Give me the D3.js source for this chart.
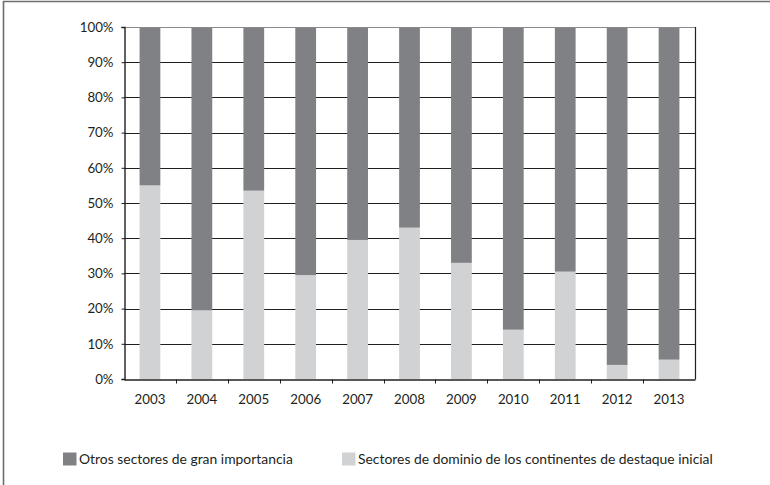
<!DOCTYPE html>
<html>
<head>
<meta charset="utf-8">
<script src="https://cdn.jsdelivr.net/npm/d3@7"></script>
<style>
  html, body { margin: 0; padding: 0; background: #fff; }
  svg { display: block; font-family: Lato, "Open Sans", sans-serif; }
</style>
</head>
<body>
<svg id="chart" width="770" height="485"></svg>
<script>
// Share of each sector group per year (percent)
const years = ["2003", "2004", "2005", "2006", "2007", "2008", "2009", "2010", "2011", "2012", "2013"];
const dominio = [55, 19.5, 53.5, 29.5, 39.5, 43, 33, 14, 30.5, 4, 5.5];
const otros = [45, 80.5, 46.5, 70.5, 60.5, 57, 67, 86, 69.5, 96, 94.5];
const seriesNames = ["Otros sectores de gran importancia", "Sectores de dominio de los continentes de destaque inicial"];
const yTicks = [0, 10, 20, 30, 40, 50, 60, 70, 80, 90, 100];

const colors = { otros: "#808184", dominio: "#d1d2d4" };

const svg = d3.select("#chart");
const m = { left: 124, right: 695, top: 27, bottom: 379 };

const x = d3.scaleBand().domain(years).range([m.left, m.right])
  .paddingInner(0.6).paddingOuter(0.3);
const y = d3.scaleLinear().domain([0, 100]).range([m.bottom, m.top]);

// Page frame (left and top edges)
svg.append("line").attr("x1", 3.5).attr("x2", 3.5).attr("y1", 1).attr("y2", 485)
  .attr("stroke", "#6d6e70").attr("stroke-width", 1.6);
svg.append("line").attr("x1", 3).attr("x2", 770).attr("y1", 1.5).attr("y2", 1.5)
  .attr("stroke", "#6d6e70").attr("stroke-width", 1.6);

// Horizontal gridlines
svg.append("g").selectAll("line").data(yTicks.filter(d => d > 0 && d < 100)).join("line")
  .attr("x1", m.left).attr("x2", m.right)
  .attr("y1", d => Math.round(y(d)) + 0.5).attr("y2", d => Math.round(y(d)) + 0.5)
  .attr("stroke", "#231f20").attr("stroke-width", 1);

// Stacked bars
const stackData = years.map((yr, i) => ({ year: yr, dominio: dominio[i], otros: otros[i] }));
const stacked = d3.stack().keys(["dominio", "otros"])(stackData);
svg.append("g").selectAll("g").data(stacked).join("g")
  .attr("fill", d => colors[d.key])
  .selectAll("rect").data(d => d).join("rect")
  .attr("x", d => x(d.data.year))
  .attr("width", x.bandwidth())
  .attr("y", d => y(d[1]))
  .attr("height", d => y(d[0]) - y(d[1]));

// Plot border: top (light) and right
svg.append("line").attr("x1", m.left).attr("x2", m.right)
  .attr("y1", m.top + 0.5).attr("y2", m.top + 0.5)
  .attr("stroke", "#8a8a8c").attr("stroke-width", 1);
svg.append("line").attr("x1", m.right + 0.5).attr("x2", m.right + 0.5)
  .attr("y1", m.top).attr("y2", m.bottom + 0.5)
  .attr("stroke", "#231f20").attr("stroke-width", 1.2);

// Y axis
const yAxis = svg.append("g").attr("transform", `translate(${m.left + 0.5},0)`)
  .call(d3.axisLeft(y).tickValues(yTicks).tickFormat(d => d + "%").tickSize(3).tickPadding(8));
yAxis.select(".domain").attr("stroke", "#231f20").attr("stroke-width", 1.4);
yAxis.selectAll(".tick line").attr("stroke", "#231f20");
yAxis.selectAll("text").attr("font-size", 13.3).attr("fill", "#231f20")
  .attr("font-family", "Lato, 'Open Sans', sans-serif");

// X axis with ticks at category boundaries
const xAxis = svg.append("g").attr("transform", `translate(0,${m.bottom + 0.5})`)
  .call(d3.axisBottom(x).tickSize(0).tickPadding(15));
xAxis.select(".domain").attr("stroke", "#231f20").attr("stroke-width", 1.4);
xAxis.selectAll("text").attr("font-size", 13.3).attr("fill", "#231f20")
  .attr("font-family", "Lato, 'Open Sans', sans-serif");
const step = x.step();
xAxis.append("g").selectAll("line").data(years.slice(1)).join("line")
  .attr("x1", d => Math.round(x(d) - (step - x.bandwidth()) / 2) + 0.5)
  .attr("x2", d => Math.round(x(d) - (step - x.bandwidth()) / 2) + 0.5)
  .attr("y1", 0).attr("y2", 4)
  .attr("stroke", "#231f20");

// Legend
const legendX = [63, 342];
const legendKeys = ["otros", "dominio"];
const legend = svg.append("g");
legendKeys.forEach((k, i) => {
  legend.append("rect").attr("x", legendX[i]).attr("y", 452.5)
    .attr("width", 13.5).attr("height", 13).attr("fill", colors[k]);
  legend.append("text").attr("x", legendX[i] + 16).attr("y", 464)
    .attr("font-size", 13.9).attr("fill", "#231f20")
    .text(seriesNames[i]);
});
</script>
</body>
</html>
